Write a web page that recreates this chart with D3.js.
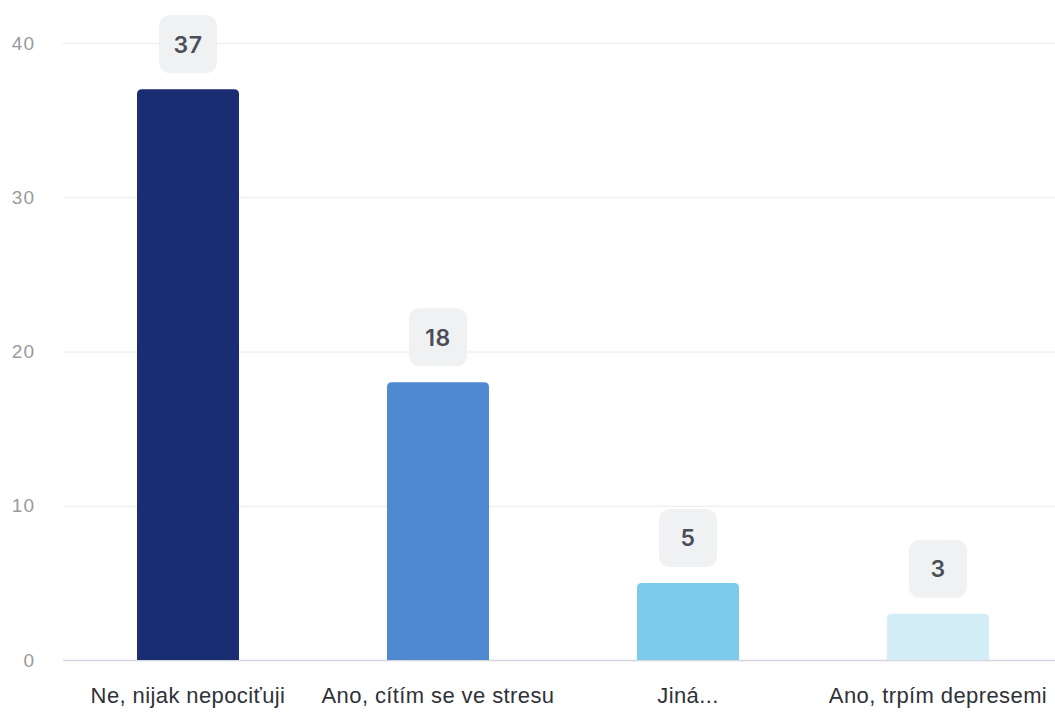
<!DOCTYPE html>
<html>
<head>
<meta charset="utf-8">
<script src="https://cdn.jsdelivr.net/npm/d3@7"></script>
<style>
  html, body { margin: 0; padding: 0; background: #fff; }
  svg { display: block; font-family: Inter, "Noto Sans", sans-serif; }
</style>
</head>
<body>
<svg id="chart" width="1055" height="715"></svg>
<script>
// Answers and counts
const categories = ["Ne, nijak nepociťuji", "Ano, cítím se ve stresu", "Jiná...", "Ano, trpím depresemi"];
const counts = [37, 18, 5, 3];
const barColors = ["#1b2d72", "#4f89cf", "#7ccbea", "#d4eef8"];
const yTicks = [0, 10, 20, 30, 40];

const svg = d3.select("#chart");
const plot = { left: 63, right: 1063, top: 43, bottom: 660 };

const x = d3.scaleBand()
  .domain(categories)
  .range([plot.left, plot.right])
  .paddingInner(0.592)
  .paddingOuter(0.296);

const y = d3.scaleLinear()
  .domain([0, 40])
  .range([plot.bottom, plot.top]);

// Horizontal grid lines and y tick labels
const yAxis = d3.axisLeft(y)
  .tickValues(yTicks)
  .tickSize(-(1055 - plot.left))
  .tickPadding(28)
  .tickFormat(d3.format("d"));

const gy = svg.append("g")
  .attr("transform", `translate(${plot.left},0)`)
  .call(yAxis);
gy.select(".domain").remove();
gy.selectAll(".tick line")
  .attr("stroke", d => d === 0 ? "#d3d6de" : "#e8eaee")
  .attr("stroke-width", d => d === 0 ? 1.5 : 1);
gy.selectAll(".tick text")
  .attr("fill", "#9a9a9a")
  .attr("font-size", 19)
  .attr("font-weight", 300)
  .attr("letter-spacing", 1)
  .attr("dy", "0.32em");

// Bars with rounded tops
const r = 5;
function barPath(d, i) {
  const x0 = x(categories[i]), w = x.bandwidth();
  const yTop = y(d), yBot = y(0);
  return `M${x0},${yBot} V${yTop + r} Q${x0},${yTop} ${x0 + r},${yTop} H${x0 + w - r} Q${x0 + w},${yTop} ${x0 + w},${yTop + r} V${yBot} Z`;
}
svg.append("g").selectAll("path")
  .data(counts)
  .join("path")
  .attr("d", barPath)
  .attr("fill", (d, i) => barColors[i]);

// Value badges above bars
const badge = { w: 58, h: 58, gap: 16, rx: 11 };
const badges = svg.append("g").selectAll("g")
  .data(counts)
  .join("g")
  .attr("transform", (d, i) => `translate(${x(categories[i]) + x.bandwidth() / 2},${y(d) - badge.gap - badge.h / 2})`);
badges.append("rect")
  .attr("x", -badge.w / 2)
  .attr("y", -badge.h / 2)
  .attr("width", badge.w)
  .attr("height", badge.h)
  .attr("rx", badge.rx)
  .attr("fill", "#f0f1f2");
badges.append("text")
  .attr("text-anchor", "middle")
  .attr("dy", "0.36em")
  .attr("font-size", 23)
  .attr("font-weight", 600)
  .attr("letter-spacing", 0.5)
  .attr("fill", "#4a4e58")
  .text(d => d);

// Category labels
const xAxis = d3.axisBottom(x).tickSize(0).tickPadding(27);
const gx = svg.append("g")
  .attr("transform", `translate(0,${plot.bottom})`)
  .call(xAxis);
gx.select(".domain").remove();
gx.selectAll(".tick text")
  .attr("fill", "#2f3238")
  .attr("font-size", 22)
  .attr("letter-spacing", 0.4);
</script>
</body>
</html>
